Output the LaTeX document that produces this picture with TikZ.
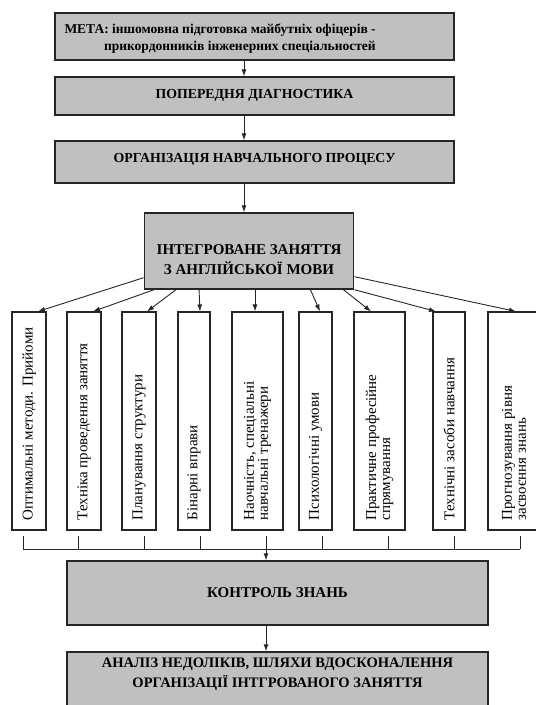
\documentclass[tikz,border=0pt]{standalone}
\usepackage{fontspec}
\setmainfont{Liberation Serif}
\usetikzlibrary{arrows.meta,positioning}
\definecolor{boxgrey}{RGB}{192,192,192}

\tikzset{
  greybox/.style={draw=black!85, fill=boxgrey, line width=1.4pt, inner sep=0pt},
  boxtext/.style={inner sep=0pt, align=center, font=\bfseries\fontsize{14.5}{20}\selectfont},
  sidebox/.style={draw=black!85, line width=1.1pt, minimum height=218pt, inner sep=0pt},
  sidetext/.style={rotate=90, anchor=west, inner sep=0pt, align=left, font=\fontsize{15}{14}\selectfont},
  link/.style={-{Latex[length=7pt,width=5pt]}, line width=0.9pt, draw=black!85},
  tick/.style={line width=0.9pt, draw=black!85}
}

\begin{document}
\begin{tikzpicture}[x=1pt, y=-1pt]
\useasboundingbox (0,0) rectangle (536,705);

\node[greybox, minimum width=399pt, minimum height=47pt] (meta) at (254.5,36.5) {};
\node[boxtext, anchor=west, align=right, font=\bfseries\fontsize{13.5}{17}\selectfont] (metatext) at ([xshift=10pt,yshift=-2pt]meta.west)
  {МЕТА: іншомовна підготовка майбутніх офіцерів -\\прикордонників інженерних спеціальностей};

\node[greybox, minimum width=399pt, minimum height=38pt] (diag) at (254.5,96) {};
\node[boxtext, font=\bfseries\fontsize{13.8}{17}\selectfont] (diagtext) at ([yshift=1pt]diag.center) {ПОПЕРЕДНЯ ДІАГНОСТИКА};

\node[greybox, minimum width=399pt, minimum height=42pt] (org) at (254.5,162) {};
\node[boxtext, font=\bfseries\fontsize{13.8}{17}\selectfont] (orgtext) at ([yshift=3pt]org.center) {ОРГАНІЗАЦІЯ НАВЧАЛЬНОГО ПРОЦЕСУ};

\node[greybox, minimum width=209.5pt, minimum height=76pt] (integ) at (249,251) {};
\node[boxtext, font=\bfseries\fontsize{15}{20}\selectfont] (integtext) at ([yshift=-9pt]integ.center) {ІНТЕГРОВАНЕ ЗАНЯТТЯ\\З АНГЛІЙСЬКОЇ МОВИ};

\foreach \name/\cx/\w in {c1/29/34, c2/84/34, c3/139/34, c4/194/32, c5/257.5/51,
                          c6/315.5/33, c7/379.5/51, c8/449/32, c9/514/52}
    \node[sidebox, minimum width=\w pt] (\name) at (\cx,421) {};

\foreach \name/\txt in {
  c1/{Оптимальні методи. Прийоми},
  c2/{Техніка проведення заняття},
  c3/{Планування структури},
  c4/{Бінарні вправи},
  c5/{Наочність, спеціальні\\навчальні тренажери},
  c6/{Психологічні умови},
  c7/{Практичне професійне\\спрямування},
  c8/{Технічні засоби навчання},
  c9/{Прогнозування рівня\\засвоєння знань}}
    \node[sidetext] (\name t) at ([yshift=10pt]\name.south) {\txt};

\node[greybox, minimum width=421pt, minimum height=64pt] (control) at (277.5,593) {};
\node[boxtext, font=\bfseries\fontsize{15}{20}\selectfont] (controltext) at (control) {КОНТРОЛЬ ЗНАНЬ};

\node[greybox, minimum width=421pt, minimum height=56pt] (analysis) at (277.5,680) {};
\node[boxtext] (analysistext) at ([yshift=6pt]analysis.center)
  {АНАЛІЗ НЕДОЛІКІВ, ШЛЯХИ ВДОСКОНАЛЕННЯ\\ОРГАНІЗАЦІЇ ІНТГРОВАНОГО ЗАНЯТТЯ};

\draw[link] ([xshift=-10.5pt]meta.south) -- ([xshift=-10.5pt]diag.north);
\draw[link] ([xshift=-10.5pt]diag.south) -- ([xshift=-10.5pt]org.north);
\draw[link] ([xshift=-10.5pt]org.south) -- ([xshift=-5pt]integ.north);

\draw[link] ([yshift=12pt]integ.south west) -- ([xshift=9pt]c1.north);
\draw[link] ([xshift=10.5pt]integ.south west) -- ([xshift=9pt]c2.north);
\draw[link] ([xshift=32.5pt]integ.south west) -- ([xshift=8pt]c3.north);
\draw[link] ([xshift=55.5pt]integ.south west) -- ([xshift=6pt]c4.north);
\draw[link] ([xshift=6pt]integ.south) -- ([xshift=-2.5pt]c5.north);
\draw[link] ([xshift=-44pt]integ.south east) -- ([xshift=4.5pt]c6.north);
\draw[link] ([xshift=-11pt]integ.south east) -- ([xshift=-8.5pt]c7.north);
\draw[link] (integ.south east) -- ([xshift=-13pt]c8.north);
\draw[link] ([yshift=13pt]integ.south east) -- ([xshift=2pt]c9.north);

\foreach \x in {23,78,144,200,322,388,454,520}
    \draw[tick] (\x,536) -- (\x,549);
\draw[tick] (23,549) -- (520,549);

\coordinate (join) at (266,536);
\draw[link] (join) -- (join |- control.north);
\draw[link] ([xshift=-11.5pt]control.south) -- ([xshift=-11.5pt]analysis.north);

\end{tikzpicture}
\end{document}
